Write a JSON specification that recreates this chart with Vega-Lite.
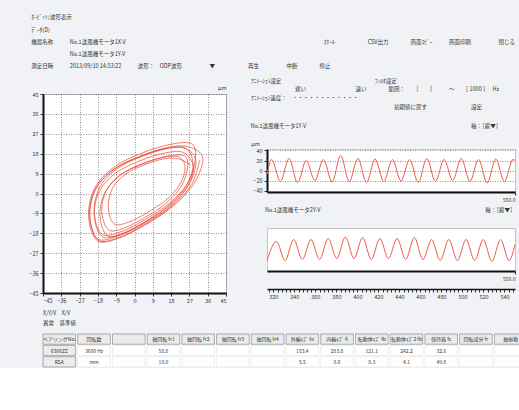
{
  "$schema": "https://vega.github.io/schema/vega-lite/v6.json",
  "background": "#f1f2f5",
  "padding": {"left": 28, "top": 15, "right": 0, "bottom": 0},
  "config": {
    "font": "Noto Sans CJK JP",
    "view": {"stroke": "#c4c4c4", "fill": "white"},
    "axis": {
      "labelFontSize": 5.5, "labelColor": "#333", "labelPadding": 2,
      "domainColor": "#111", "domainWidth": 2,
      "tickColor": "#333", "tickSize": 3,
      "gridColor": "#444", "gridDash": [1, 1.5], "gridOpacity": 0.75, "gridWidth": 0.8,
      "titleFontSize": 5.5, "titleFontWeight": "normal", "titleColor": "#333"
    },
    "title": {"fontWeight": "normal", "color": "#333", "subtitleColor": "#333"}
  },
  "title": {
    "text": "ｵｰﾋﾞｯﾄ/波形表示",
    "subtitle": [
      "ﾃﾞｰﾀ(D)",
      "機器名称　　　No.1送風機モータ1X-V　　　　　　　　　　　　　　　　　　　　　　　　　　　　　　　　　　　　ｽｹｰﾙ　　　　　　CSV出力　　　　画面ｺﾋﾟｰ　　　画面印刷　　　　　閉じる",
      "\u200b　　　　　　　No.1送風機モータ1Y-V",
      "測定日時　　　2013/09/10 14:53:22　　　波形：　ODP波形　　　　　▼　　　　　　再生　　　　　中断　　　　停止"
    ],
    "anchor": "start", "dx": 3, "fontSize": 5.5, "subtitleFontSize": 5.5, "subtitleLineHeight": 12, "subtitlePadding": 7, "offset": 8
  },
  "spacing": 6,
  "vconcat": [
    {
      "spacing": 23,
      "hconcat": [
        {
          "spacing": 6,
          "vconcat": [
            {
              "width": 183, "height": 1,
              "view": {"stroke": null, "fill": null},
              "data": {"values": [{"label": ""}]},
              "mark": {"type": "rect", "opacity": 0}
            },
            {
              "width": 183, "height": 199,
              "data": {"values": [
                {"i":1,"x":32,"y":15},{"i":2,"x":28,"y":4},{"i":3,"x":18,"y":-6},{"i":4,"x":5,"y":-14},{"i":5,"x":-8,"y":-20},{"i":6,"x":-18,"y":-21},{"i":7,"x":-22,"y":-10},{"i":8,"x":-19,"y":2},{"i":9,"x":-10,"y":11},{"i":10,"x":3,"y":17},{"i":11,"x":17,"y":21},{"i":12,"x":27,"y":21},
                {"i":13,"x":33.6,"y":16.1},{"i":14,"x":29.4,"y":4.7},{"i":15,"x":19.0,"y":-5.7},{"i":16,"x":5.5,"y":-14.1},{"i":17,"x":-8.0,"y":-20.3},{"i":18,"x":-18.4,"y":-21.3},{"i":19,"x":-22.6,"y":-9.9},{"i":20,"x":-19.5,"y":2.6},{"i":21,"x":-10.1,"y":11.9},{"i":22,"x":3.4,"y":18.2},{"i":23,"x":18.0,"y":22.3},{"i":24,"x":28.4,"y":22.3},
                {"i":25,"x":29.8,"y":14.8},{"i":26,"x":26.2,"y":4.7},{"i":27,"x":17.0,"y":-4.5},{"i":28,"x":5,"y":-11.9},{"i":29,"x":-7.0,"y":-17.4},{"i":30,"x":-16.2,"y":-18.3},{"i":31,"x":-19.8,"y":-8.2},{"i":32,"x":-17.1,"y":2.8},{"i":33,"x":-8.8,"y":11.1},{"i":34,"x":3.2,"y":16.6},{"i":35,"x":16.0,"y":20.3},{"i":36,"x":25.2,"y":20.3},
                {"i":37,"x":30.2,"y":14.6},{"i":38,"x":26.6,"y":3.9},{"i":39,"x":16.6,"y":-5.8},{"i":40,"x":4,"y":-13.6},{"i":41,"x":-8.6,"y":-19.4},{"i":42,"x":-18.3,"y":-20.4},{"i":43,"x":-22.1,"y":-9.7},{"i":44,"x":-19.3,"y":1.9},{"i":45,"x":-10.6,"y":10.7},{"i":46,"x":2.1,"y":16.5},{"i":47,"x":15.6,"y":20.4},{"i":48,"x":25.3,"y":20.4},
                {"i":49,"x":28.8,"y":13},{"i":50,"x":25.2,"y":3.1},{"i":51,"x":16.2,"y":-5.9},{"i":52,"x":4.5,"y":-13.1},{"i":53,"x":-7.2,"y":-18.5},{"i":54,"x":-16.2,"y":-19.4},{"i":55,"x":-19.8,"y":-9.5},{"i":56,"x":-17.1,"y":1.3},{"i":57,"x":-9,"y":9.4},{"i":58,"x":2.7,"y":14.8},{"i":59,"x":15.3,"y":18.4},{"i":60,"x":24.3,"y":18.4},
                {"i":61,"x":29.0,"y":11.8},{"i":62,"x":25.6,"y":2.4},{"i":63,"x":17.1,"y":-6.1},{"i":64,"x":6,"y":-12.9},{"i":65,"x":-5.1,"y":-18.0},{"i":66,"x":-13.6,"y":-18.9},{"i":67,"x":-17.0,"y":-9.5},{"i":68,"x":-14.4,"y":0.7},{"i":69,"x":-6.8,"y":8.4},{"i":70,"x":4.3,"y":13.5},{"i":71,"x":16.2,"y":16.9},{"i":72,"x":24.7,"y":16.9},
                {"i":73,"x":26.1,"y":11.7},{"i":74,"x":22.9,"y":3.1},{"i":75,"x":15.1,"y":-4.7},{"i":76,"x":5,"y":-10.9},{"i":77,"x":-5.1,"y":-15.6},{"i":78,"x":-12.9,"y":-16.4},{"i":79,"x":-16.1,"y":-7.8},{"i":80,"x":-13.7,"y":1.6},{"i":81,"x":-6.7,"y":8.6},{"i":82,"x":3.4,"y":13.3},{"i":83,"x":14.4,"y":16.4},{"i":84,"x":22.2,"y":16.4},
                {"i":85,"x":24.9,"y":11.5},{"i":86,"x":22.1,"y":3.8},{"i":87,"x":15.1,"y":-3.2},{"i":88,"x":6,"y":-8.8},{"i":89,"x":-3.1,"y":-13},{"i":90,"x":-10.1,"y":-13.7},{"i":91,"x":-12.9,"y":-6},{"i":92,"x":-10.8,"y":2.4},{"i":93,"x":-4.5,"y":8.7},{"i":94,"x":4.6,"y":12.9},{"i":95,"x":14.4,"y":15.7},{"i":96,"x":21.4,"y":15.7},
                {"i":97,"x":27.5,"y":13}
              ]},
              "mark": {"type": "line", "interpolate": "cardinal", "color": "#e8402a", "strokeWidth": 0.8, "opacity": 0.85},
              "encoding": {
                "x": {"field": "x", "type": "quantitative", "scale": {"domain": [-45, 45], "nice": false},
                      "axis": {"values": [-45,-36,-27,-18,-9,0,9,18,27,36,45], "title": null, "grid": true}},
                "y": {"field": "y", "type": "quantitative", "scale": {"domain": [-45, 45], "nice": false},
                      "axis": {"values": [-45,-36,-27,-18,-9,0,9,18,27,36,45], "grid": true, "title": "μm", "titleAngle": 0, "titleX": 183, "titleY": -4, "titleAlign": "right", "titleBaseline": "bottom"}},
                "order": {"field": "i", "type": "quantitative"}
              }
            }
          ]
        },
        {
          "spacing": 4,
          "vconcat": [
            {
              "width": 248, "height": 1,
              "view": {"stroke": null, "fill": null},
              "title": {
                "text": "ｱﾆﾒｰｼｮﾝ設定　　　　　　　　　　　　　　　　　ﾌｨﾙﾀ設定",
                "subtitle": [
                  "\u200b　　　　　　　　遅い　　　　　　　　　速い　　　　範囲：　　［　　］　　　～　　［ 1000 ］　 Hz",
                  "ｱﾆﾒｰｼｮﾝ速度：　・・・・・・・・・・・・",
                  "\u200b　　　　　　　　　　　　　　　　　　　　　　　　　　初期値に戻す　　　　　　　　設定",
                  "\u200b\u3000"
                ],
                "orient": "bottom", "anchor": "start", "frame": "group", "dx": -16, "fontSize": 5.5, "subtitleFontSize": 5.5, "subtitleLineHeight": 9, "subtitlePadding": 2, "offset": 1
              },
              "data": {"values": [{"label": ""}]},
              "mark": {"type": "rect", "opacity": 0}
            },
            {
              "width": 248, "height": 43,
              "title": {"text": "No.1送風機モータ1Y-V　　　　　　　　　　　　　　　　　　　　　　　　　　　　　　軸：［縦▼］", "anchor": "start", "frame": "bounds", "fontSize": 5.5, "offset": 12},
              "data": {"values": [
                {"t":314,"v":-8},{"t":318.5,"v":22},{"t":326.7,"v":-22},{"t":334.9,"v":24},{"t":343.1,"v":-24},{"t":351.3,"v":20},{"t":359.5,"v":-20},{"t":367.7,"v":22},{"t":375.9,"v":-23},{"t":384.1,"v":30},{"t":392.3,"v":-22},{"t":400.5,"v":24},{"t":408.7,"v":-24},{"t":416.9,"v":23},{"t":425.1,"v":-22},{"t":433.3,"v":22},{"t":441.5,"v":-21},{"t":449.7,"v":22},{"t":457.9,"v":-24},{"t":466.1,"v":24},{"t":474.3,"v":-22},{"t":482.5,"v":22},{"t":490.7,"v":-20},{"t":498.9,"v":24},{"t":507.1,"v":-22},{"t":515.3,"v":22},{"t":523.5,"v":-25},{"t":531.7,"v":23},{"t":539.9,"v":-22},{"t":548.1,"v":22},{"t":550,"v":20}
              ]},
              "mark": {"type": "line", "interpolate": "monotone", "color": "#ef5b48", "strokeWidth": 1},
              "encoding": {
                "x": {"field": "t", "type": "quantitative", "scale": {"domain": [314, 550], "nice": false, "zero": false},
                      "axis": {"values": [550], "format": ".1f", "grid": false, "title": null, "labelAlign": "right", "labelFontSize": 5}},
                "y": {"field": "v", "type": "quantitative", "scale": {"domain": [-43, 43], "nice": false},
                      "axis": {"values": [-40,-20,0,20,40], "grid": true, "title": "μm", "titleAngle": 0, "titleX": -12, "titleY": -3, "titleAlign": "center", "titleBaseline": "bottom"}}
              }
            },
            {
              "width": 248, "height": 43,
              "title": {"text": "No.1送風機モータ2Y-V　　　　　　　　　　　　　　　　　　　　　　　　　　　　　　軸：［縦▼］", "anchor": "start", "frame": "bounds", "fontSize": 5.5, "offset": 15},
              "data": {"values": [
                {"t":314,"v":-22},{"t":323,"v":16},{"t":331.2,"v":-22},{"t":339.4,"v":20},{"t":347.6,"v":-20},{"t":355.8,"v":20},{"t":364,"v":-20},{"t":372.2,"v":22},{"t":380.4,"v":-18},{"t":388.6,"v":25},{"t":396.8,"v":-18},{"t":405,"v":24},{"t":413.2,"v":-20},{"t":421.4,"v":22},{"t":429.6,"v":-18},{"t":437.8,"v":22},{"t":446,"v":-20},{"t":454.2,"v":24},{"t":462.4,"v":-20},{"t":470.6,"v":20},{"t":478.8,"v":-22},{"t":487,"v":20},{"t":495.2,"v":-22},{"t":503.4,"v":20},{"t":511.6,"v":-22},{"t":519.8,"v":20},{"t":528,"v":-24},{"t":536.2,"v":20},{"t":544.4,"v":-22},{"t":550,"v":10}
              ]},
              "layer": [
                {
                  "mark": {"type": "line", "interpolate": "monotone", "color": "#ef5b48", "strokeWidth": 1},
                  "encoding": {
                    "x": {"field": "t", "type": "quantitative", "scale": {"domain": [314, 550], "nice": false, "zero": false},
                          "axis": {"values": [550], "format": ".1f", "grid": false, "title": null, "labelAlign": "right", "labelFontSize": 5}},
                    "y": {"field": "v", "type": "quantitative", "scale": {"domain": [-43, 43], "nice": false},
                          "axis": {"values": [-40,-20,0,20,40], "grid": true, "title": "μm", "titleAngle": 0, "titleX": -12, "titleY": -3, "titleAlign": "center", "titleBaseline": "bottom"}}
                  }
                },
                {
                  "mark": {"type": "line", "opacity": 0},
                  "encoding": {
                    "x": {"field": "t", "type": "quantitative", "scale": {"domain": [314, 550], "nice": false, "zero": false},
                          "axis": {"orient": "bottom", "offset": 18, "grid": false, "title": null, "domainWidth": 1.5, "tickSize": 3,
                                   "values": [316,320,324,328,332,336,340,344,348,352,356,360,364,368,372,376,380,384,388,392,396,400,404,408,412,416,420,424,428,432,436,440,444,448,452,456,460,464,468,472,476,480,484,488,492,496,500,504,508,512,516,520,524,528,532,536,540,544,548],
                                   "labelExpr": "datum.value % 20 == 0 ? datum.label : ''"}},
                    "y": {"field": "v", "type": "quantitative", "scale": {"domain": [-43, 43], "nice": false}, "axis": null}
                  }
                }
              ],
              "resolve": {"scale": {"x": "independent"}, "axis": {"x": "independent"}}
            }
          ]
        }
      ]
    },
    {
      "width": 484, "height": 33,
      "title": {"text": "X/Y/V　X/V", "subtitle": ["異常　基準値"], "anchor": "start", "frame": "group", "fontSize": 5.5, "subtitleFontSize": 5.5, "subtitlePadding": 5, "offset": 7},
      "view": {"stroke": null, "fill": "white"},
      "data": {"values": [
        {"c":1,"r":0,"txt":"ベアリングNo."},{"c":2,"r":0,"txt":"回転数"},{"c":3,"r":0,"txt":""},{"c":4,"r":0,"txt":"軸回転 fr1"},{"c":5,"r":0,"txt":"軸回転 fr2"},{"c":6,"r":0,"txt":"軸回転 fr3"},{"c":7,"r":0,"txt":"軸回転 fr4"},{"c":8,"r":0,"txt":"外輪ｷｽﾞ fo"},{"c":9,"r":0,"txt":"内輪ｷｽﾞ fi"},{"c":10,"r":0,"txt":"転動体ｷｽﾞ fb"},{"c":11,"r":0,"txt":"転動体ｷｽﾞ2 fb"},{"c":12,"r":0,"txt":"保持器 fc"},{"c":13,"r":0,"txt":"回転成分 fr"},{"c":14,"r":0,"txt":"軸振動"},
        {"c":1,"r":1,"txt":"6306ZZ"},{"c":2,"r":1,"txt":"3600 Hz"},{"c":3,"r":1,"txt":""},{"c":4,"r":1,"txt":"58.8"},{"c":5,"r":1,"txt":""},{"c":6,"r":1,"txt":""},{"c":7,"r":1,"txt":""},{"c":8,"r":1,"txt":"153.4"},{"c":9,"r":1,"txt":"283.8"},{"c":10,"r":1,"txt":"121.1"},{"c":11,"r":1,"txt":"242.2"},{"c":12,"r":1,"txt":"32.8"},{"c":13,"r":1,"txt":""},{"c":14,"r":1,"txt":""},
        {"c":1,"r":2,"txt":"RSA"},{"c":2,"r":2,"txt":"mm"},{"c":3,"r":2,"txt":""},{"c":4,"r":2,"txt":"18.0"},{"c":5,"r":2,"txt":""},{"c":6,"r":2,"txt":""},{"c":7,"r":2,"txt":""},{"c":8,"r":2,"txt":"5.5"},{"c":9,"r":2,"txt":"8.6"},{"c":10,"r":2,"txt":"8.3"},{"c":11,"r":2,"txt":"4.1"},{"c":12,"r":2,"txt":"49.8"},{"c":13,"r":2,"txt":""},{"c":14,"r":2,"txt":""}
      ]},
      "encoding": {
        "x": {"field": "c", "type": "ordinal", "axis": null, "scale": {"paddingInner": 0.06, "paddingOuter": 0}},
        "y": {"field": "r", "type": "ordinal", "axis": null, "scale": {"paddingInner": 0.1, "paddingOuter": 0}}
      },
      "layer": [
        {
          "mark": {"type": "rect", "strokeWidth": 0.6},
          "encoding": {
            "fill": {"condition": {"test": "datum.r == 0 || datum.c == 1", "value": "#ececec"}, "value": "white"},
            "stroke": {"condition": {"test": "datum.r == 0 || datum.c == 1", "value": "#777"}, "value": "#e0e0e0"}
          }
        },
        {
          "mark": {"type": "text", "fontSize": 5, "color": "#333"},
          "encoding": {"text": {"field": "txt"}}
        }
      ]
    }
  ]
}
